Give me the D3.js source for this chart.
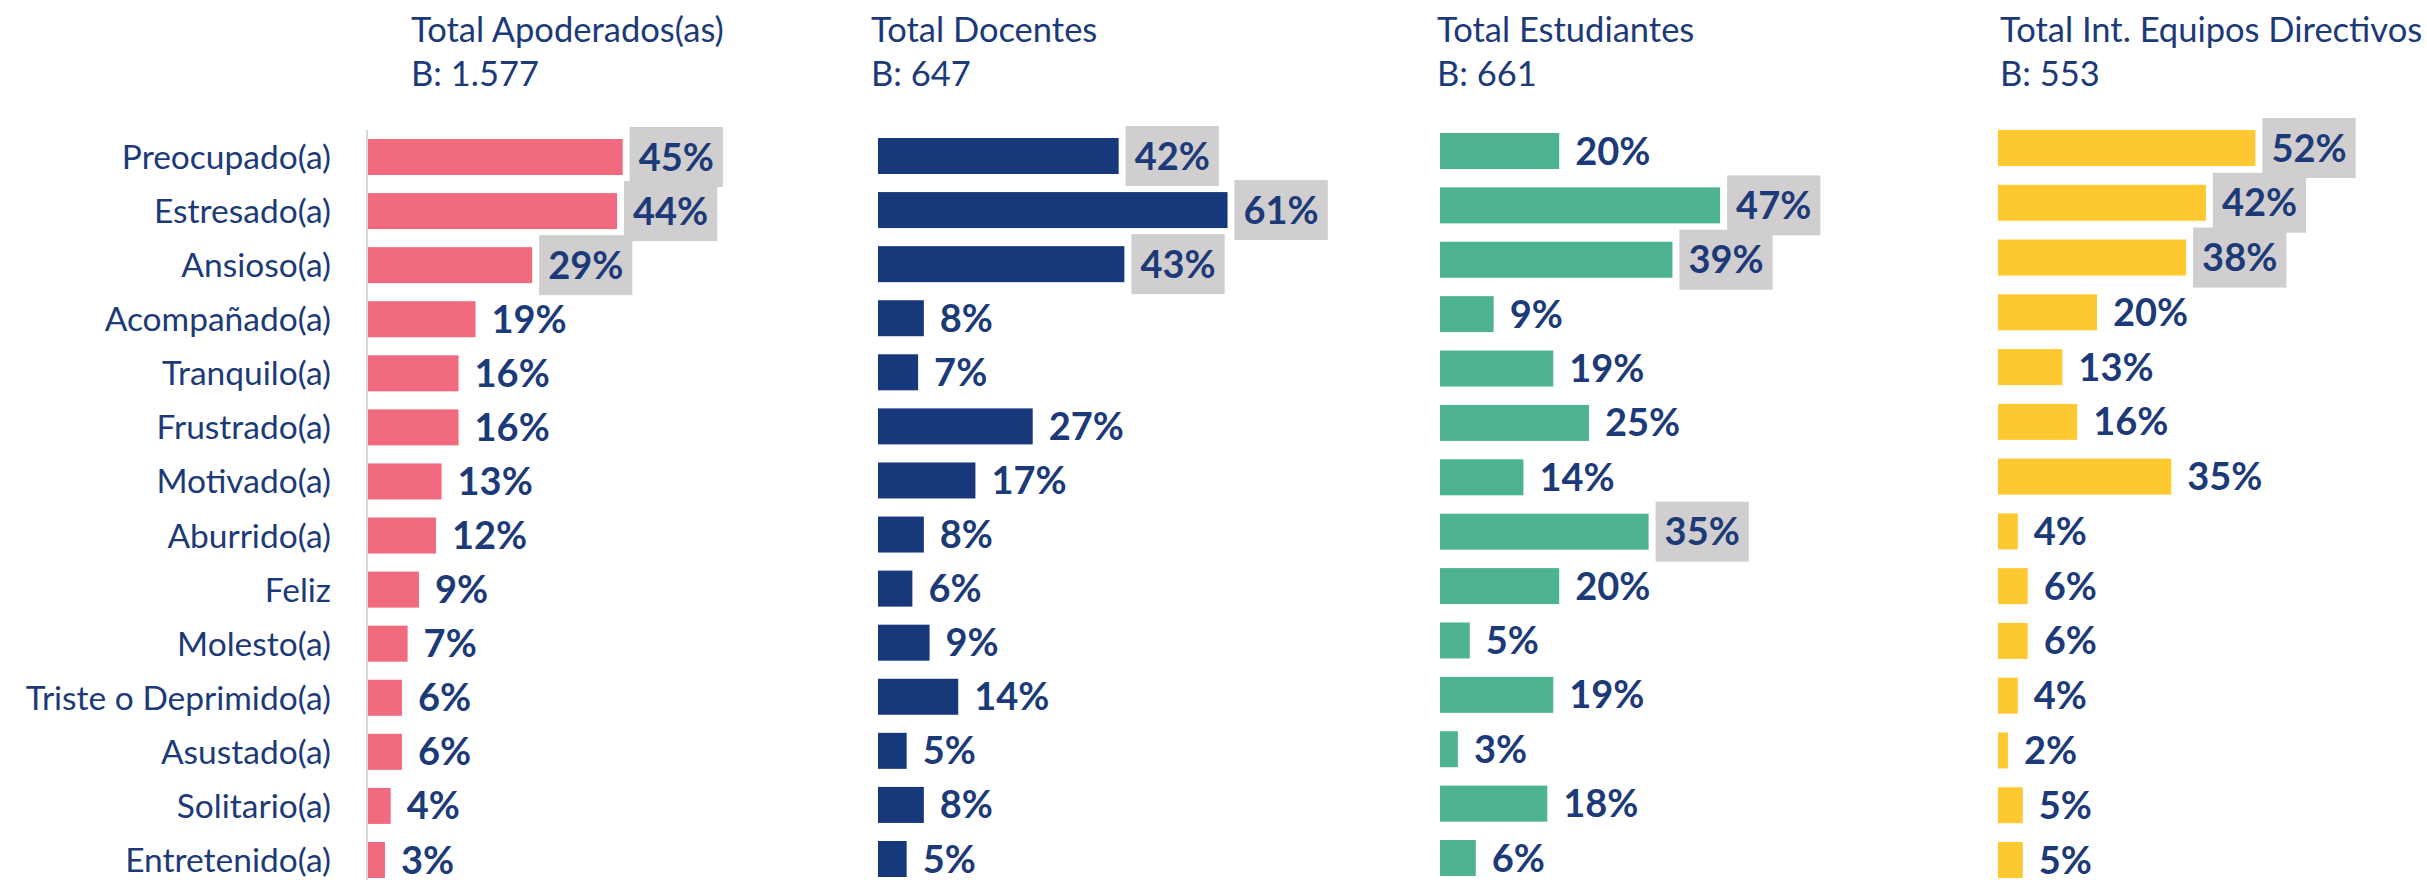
<!DOCTYPE html>
<html>
<head>
<meta charset="utf-8">
<script src="https://cdn.jsdelivr.net/npm/d3@7"></script>
<style>
  html, body { margin: 0; padding: 0; background: #fff; }
  svg text { font-family: Lato, "Open Sans", sans-serif; }
</style>
</head>
<body>
<svg id="chart" width="2427" height="880"></svg>
<script>
// categories shared by the four panels
var categories = ["Preocupado(a)", "Estresado(a)", "Ansioso(a)", "Acompañado(a)", "Tranquilo(a)",
  "Frustrado(a)", "Motivado(a)", "Aburrido(a)", "Feliz", "Molesto(a)",
  "Triste o Deprimido(a)", "Asustado(a)", "Solitario(a)", "Entretenido(a)"];

var apoderados  = [45, 44, 29, 19, 16, 16, 13, 12, 9, 7, 6, 6, 4, 3];
var docentes    = [42, 61, 43, 8, 7, 27, 17, 8, 6, 9, 14, 5, 8, 5];
var estudiantes = [20, 47, 39, 9, 19, 25, 14, 35, 20, 5, 19, 3, 18, 6];
var directivos  = [52, 42, 38, 20, 13, 16, 35, 4, 6, 6, 4, 2, 5, 5];

var titles = ["Total Apoderados(as)", "Total Docentes", "Total Estudiantes", "Total Int. Equipos Directivos"];
var bases  = ["B: 1.577", "B: 647", "B: 661", "B: 553"];

var TEXT = "#1c3a78";
var HILITE = "#d0cecf";

// layout of each small chart (each one was its own excel chart)
var panels = [
  { values: apoderados,  color: "#f26a7e", x0: 368,  pxPer100: 566, titleX: 411,  top: 139, bottom: 878, axis: true },
  { values: docentes,    color: "#17387a", x0: 878,  pxPer100: 573, titleX: 871,  top: 138, bottom: 877 },
  { values: estudiantes, color: "#4db48f", x0: 1440, pxPer100: 596, titleX: 1437, top: 133, bottom: 876 },
  { values: directivos,  color: "#fec830", x0: 1998, pxPer100: 495, titleX: 2000, top: 130, bottom: 878 }
];

var svg = d3.select("#chart");
var barH = 36;

panels.forEach(function (p, pi) {
  var x = d3.scaleLinear().domain([0, 100]).range([p.x0, p.x0 + p.pxPer100]);
  var step = (p.bottom - p.top - barH) / (categories.length - 1);
  var y = d3.scaleBand().domain(categories).range([p.top, p.bottom])
    .paddingInner(1 - barH / step).paddingOuter(0);

  // top 3 values get the grey label box
  var top3 = p.values.slice().sort(d3.descending)[2];

  var g = svg.append("g");

  // titles
  g.append("text").attr("x", p.titleX).attr("y", 42)
    .attr("font-size", 34.5).attr("fill", TEXT).text(titles[pi]);
  g.append("text").attr("x", p.titleX).attr("y", 86)
    .attr("font-size", 34.5).attr("fill", TEXT).text(bases[pi]);

  if (p.axis) {
    g.append("line").attr("x1", p.x0 - 1).attr("x2", p.x0 - 1)
      .attr("y1", p.top - 9).attr("y2", 880)
      .attr("stroke", "#d9d9d9").attr("stroke-width", 2);
    // category labels on the left
    g.selectAll(".cat").data(categories).enter().append("text")
      .attr("class", "cat")
      .attr("x", p.x0 - 37)
      .attr("y", function (d) { return y(d) + y.bandwidth() / 2 + 12; })
      .attr("text-anchor", "end").attr("font-size", 33.5).attr("fill", TEXT)
      .text(function (d) { return d; });
  }

  var rows = g.selectAll(".row").data(p.values).enter().append("g").attr("class", "row");

  rows.append("rect")
    .attr("x", x(0))
    .attr("y", function (d, i) { return y(categories[i]); })
    .attr("width", function (d) { return x(d) - x(0); })
    .attr("height", y.bandwidth())
    .attr("fill", p.color);

  var box = rows.filter(function (d) { return d >= top3; }).append("rect")
    .attr("fill", HILITE);

  var lbl = rows.append("text")
    .attr("x", function (d) { return x(d) + 16; })
    .attr("y", function (d, i) { return y(categories[i]) + y.bandwidth() / 2 + 13.5; })
    .attr("font-size", 38).attr("font-weight", "bold").attr("fill", TEXT)
    .text(function (d) { return d + "%"; });

  box.each(function (d) {
    var i = p.values.indexOf(d);
    var t = lbl.filter(function (v, j) { return j === i; }).node();
    var w = t.getComputedTextLength();
    d3.select(this)
      .attr("x", x(d) + 7)
      .attr("y", y(categories[i]) + y.bandwidth() / 2 - 30)
      .attr("width", w + 18)
      .attr("height", 60);
  });
});
</script>
</body>
</html>
